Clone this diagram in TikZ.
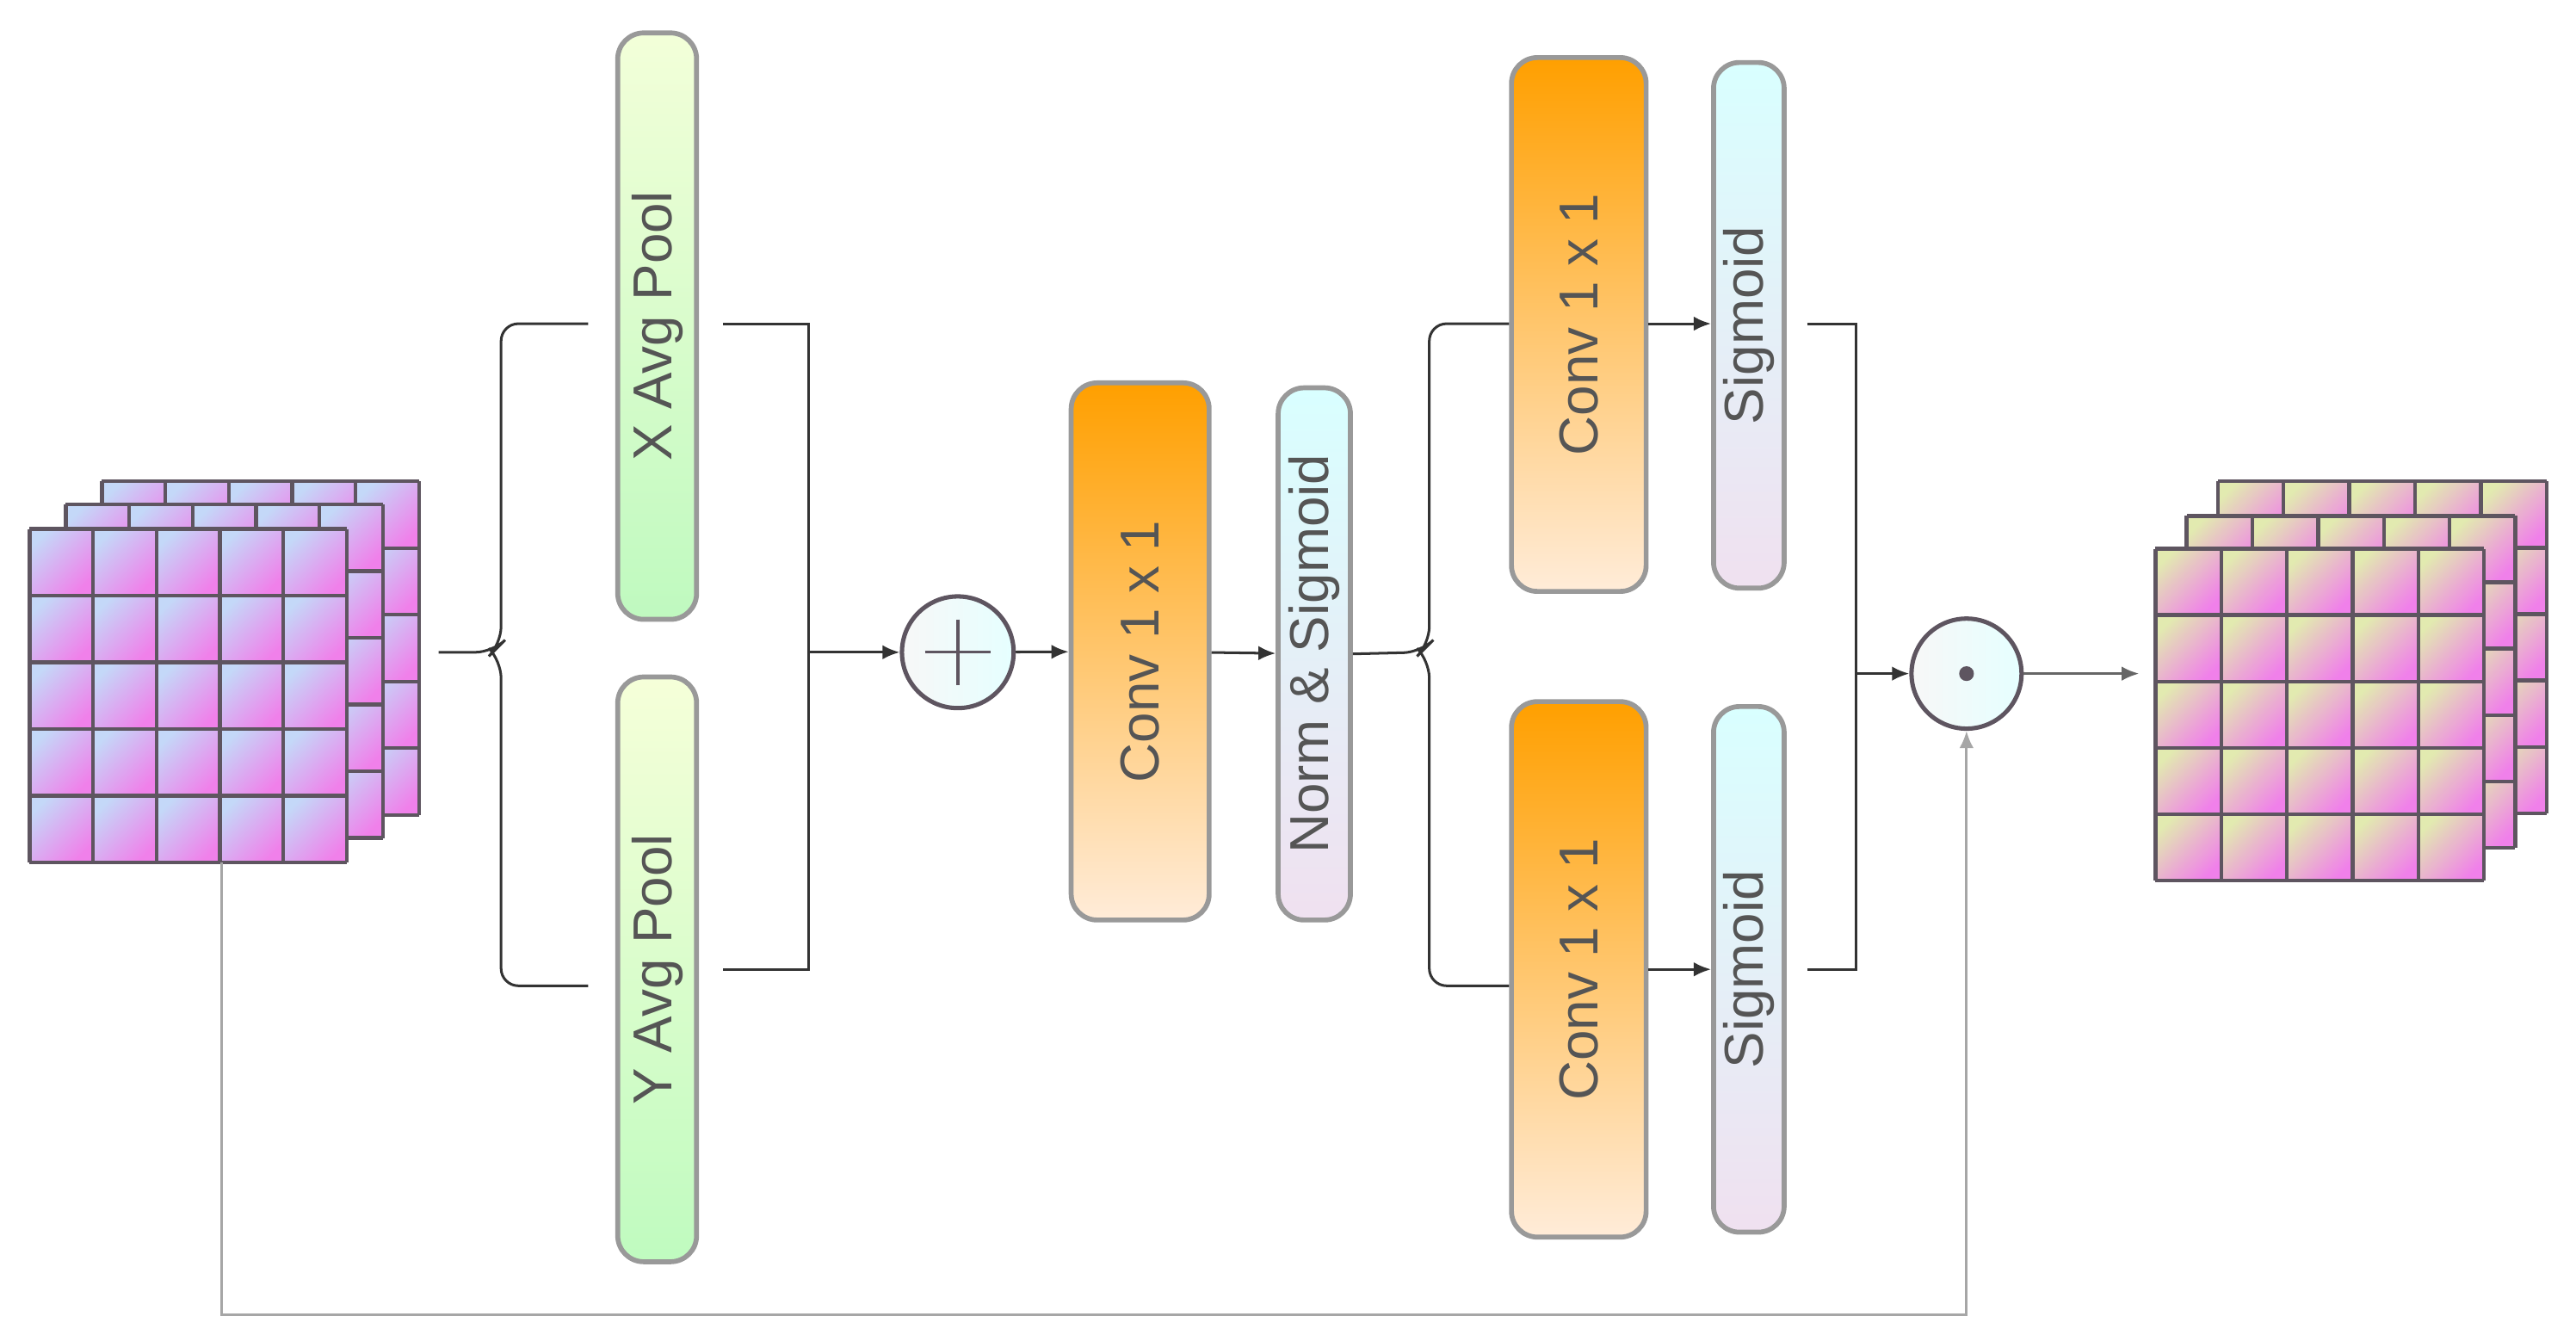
\documentclass[tikz,border=0pt]{standalone}
\usepackage{fontspec}
\setmainfont{Liberation Sans}
\usetikzlibrary{arrows.meta,calc}
\definecolor{txt}{HTML}{555555}
\definecolor{bd}{HTML}{999999}
\definecolor{gridc}{HTML}{5E5560}
\definecolor{pk}{HTML}{F080EA}
\definecolor{bl}{HTML}{C4D8F8}
\definecolor{yg}{HTML}{E2EAB0}
\begin{document}
\begin{tikzpicture}[x=0.02cm,y=-0.02cm,
  box/.style={draw=bd,line width=1.7pt,rounded corners=9pt,minimum width=#1,inner sep=0pt},
  lbl/.style={text=txt,font=\fontsize{19}{22}\selectfont,rotate=90},
  ln/.style={draw=black!80,line width=0.9pt},
  arr/.style={ln,-{Latex[length=6pt,width=5pt]}},
  op/.style={circle,draw=gridc,line width=1.5pt,minimum size=1.36cm,inner sep=0pt,left color=black!3,right color=cyan!10}]
\useasboundingbox (0,0) rectangle (1568,816);
% ---- stacks
\newcommand\mylayer[5]{% x0 y0 w h lowercolor
  \foreach \i in {0,...,4}{\foreach \j in {0,...,4}{
    \shade[left color=#5,right color=pk,shading angle=45]
      ({#1+\i*#3/5},{#2+\j*#4/5}) rectangle ({#1+(\i+1)*#3/5},{#2+(\j+1)*#4/5});}}
  \foreach \i in {0,...,5}{\draw[gridc,line width=1.3pt] ({#1+\i*#3/5},#2) -- ({#1+\i*#3/5},{#2+#4});
    \draw[gridc,line width=1.3pt] (#1,{#2+\i*#4/5}) -- ({#1+#3},{#2+\i*#4/5});}}
\mylayer{62}{293}{193}{203}{bl}
\mylayer{40}{307}{193}{203}{bl}
\mylayer{18}{322}{193}{203}{bl}
\mylayer{1350}{293}{200}{202}{yg}
\mylayer{1331}{314}{200}{202}{yg}
\mylayer{1312}{334}{200}{202}{yg}
\coordinate (inR) at (267,397);
\coordinate (inB) at (135,525);
\coordinate (outL) at (1302,410);
% ---- boxes
\node[box=0.96cm,minimum height=7.14cm,top color=green!10!lime!15,bottom color=green!40!black!15!green!25] (xp) at (400,198.5) {};
\node[lbl] at (xp) {X Avg Pool};
\node[box=0.96cm,minimum height=7.12cm,top color=lime!15,bottom color=green!35!black!10!green!25] (yp) at (400,590) {};
\node[lbl] at (yp) {Y Avg Pool};
\node[op] (plus) at (583,397) {};
\draw[gridc,line width=1pt] ($(plus)+(-20,0)$) -- ($(plus)+(20,0)$) ($(plus)+(0,-20)$) -- ($(plus)+(0,20)$);
\node[box=1.68cm,minimum height=6.54cm,top color=orange!75!yellow,bottom color=orange!15] (c1) at (694,396.5) {};
\node[lbl] at (c1) {Conv 1 x 1};
\node[box=0.88cm,minimum height=6.48cm,top color=cyan!15,bottom color=violet!12] (ns) at (800,398) {};
\node[lbl] at (ns) {Norm \& Sigmoid};
\node[box=1.64cm,minimum height=6.5cm,top color=orange!75!yellow,bottom color=orange!15] (c2) at (961,197.5) {};
\node[lbl] at (c2) {Conv 1 x 1};
\node[box=1.64cm,minimum height=6.52cm,top color=orange!75!yellow,bottom color=orange!15] (c3) at (961,590) {};
\node[lbl] at (c3) {Conv 1 x 1};
\node[box=0.86cm,minimum height=6.4cm,top color=cyan!15,bottom color=violet!12] (s1) at (1064.5,198) {};
\node[lbl] at (s1) {Sigmoid};
\node[box=0.86cm,minimum height=6.4cm,top color=cyan!15,bottom color=violet!12] (s2) at (1064.5,590) {};
\node[lbl] at (s2) {Sigmoid};
\node[op,minimum size=1.34cm] (dot) at (1197,410) {};
\fill[gridc] (dot) circle (4.5);
% ---- connectors
\draw[ln,rounded corners=6pt] (inR) -- (300,397) -- (305,392) -- (305,197) -- (358,197);
\draw[ln,rounded corners=6pt] (300,397) -- (305,402) -- (305,600) -- (358,600);
\draw[ln] (440,197) -- (492,197) -- (492,590) -- (440,590);
\draw[arr] (492,397) -- (plus);
\draw[arr] (plus) -- (c1);
\draw[arr] (c1) -- (ns);
\draw[ln,rounded corners=6pt] (ns.east) -- (865,397) -- (870,392) -- (870,197) -- (c2.west|-0,197);
\draw[ln,rounded corners=6pt] (865,397) -- (870,402) -- (870,600) -- (c3.west|-0,600);
\draw[arr] (c2.east|-0,197) -- (s1.west|-0,197);
\draw[arr] (c3.east|-0,590) -- (s2.west|-0,590);
\draw[ln] (1100,197) -- (1130,197) -- (1130,590) -- (1100,590);
\draw[arr] (1130,410) -- (dot);
\draw[arr,draw=black!60] (dot) -- (outL);
\draw[arr,draw=black!35] (inB) -- (135,800) -- (1197,800) -- (dot);
\end{tikzpicture}
\end{document}
